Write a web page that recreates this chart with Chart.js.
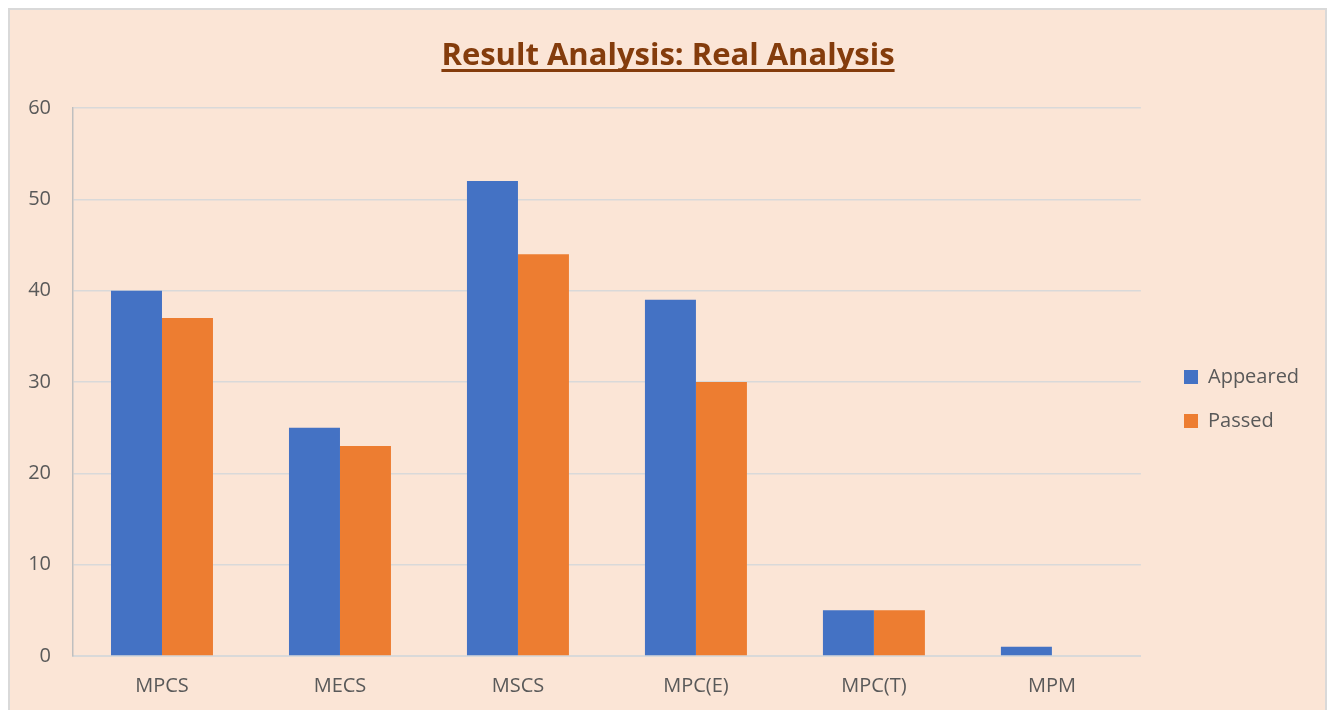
<!DOCTYPE html>
<html>
<head>
<meta charset="utf-8">
<script src="https://cdn.jsdelivr.net/npm/chart.js@4/dist/chart.umd.min.js"></script>
<style>
  html, body { margin: 0; padding: 0; background: #ffffff; }
  #c { display: block; }
</style>
</head>
<body>
<canvas id="c" width="1331" height="710"></canvas>
<script>
const categories = ['MPCS', 'MECS', 'MSCS', 'MPC(E)', 'MPC(T)', 'MPM'];
const appeared = [40, 25, 52, 39, 5, 1];
const passed = [37, 23, 44, 30, 5, 0];
const seriesNames = ['Appeared', 'Passed'];
const titleText = 'Result Analysis: Real Analysis';

const FONT = '"Open Sans", "Noto Sans", sans-serif';

const panelPlugin = {
  id: 'panel',
  beforeDraw(chart) {
    const ctx = chart.ctx;
    ctx.save();
    ctx.fillStyle = '#ffffff';
    ctx.fillRect(0, 0, chart.width, chart.height);
    ctx.fillStyle = '#FBE5D6';
    ctx.fillRect(9, 9, 1317, 720);
    ctx.strokeStyle = '#D9D9D9';
    ctx.lineWidth = 2;
    ctx.strokeRect(9, 9, 1317, 720);
    ctx.restore();
  },
  afterDraw(chart) {
    const ctx = chart.ctx;
    ctx.save();
    ctx.font = 'bold 31px ' + FONT;
    ctx.fillStyle = '#843C0C';
    ctx.textAlign = 'center';
    ctx.textBaseline = 'alphabetic';
    const cx = 668, by = 65;
    ctx.fillText(titleText, cx, by);
    const w = ctx.measureText(titleText).width;
    ctx.fillRect(cx - w / 2, by + 4, w, 3);
    ctx.restore();
  }
};

const legendShift = {
  id: 'legendShift',
  afterLayout(chart) {
    const lg = chart.legend;
    if (!lg) return;
    const dx = 1160 - lg.left;
    lg.left += dx; lg.right += dx;
    lg.top -= 10; lg.bottom -= 10;
  }
};

new Chart(document.getElementById('c'), {
  type: 'bar',
  data: {
    labels: categories,
    datasets: [
      { label: seriesNames[0], data: appeared, backgroundColor: '#4472C4', borderWidth: 0 },
      { label: seriesNames[1], data: passed, backgroundColor: '#ED7D31', borderWidth: 0 }
    ]
  },
  options: {
    responsive: false,
    animation: false,
    devicePixelRatio: 1,
    layout: { padding: { top: 108, right: 41, bottom: 0, left: 0 } },
    datasets: { bar: { categoryPercentage: 0.573, barPercentage: 1.0 } },
    scales: {
      x: {
        grid: { display: false, drawTicks: false },
        border: { display: true, color: '#D9D9D9', width: 2 },
        ticks: { color: '#595959', font: { family: FONT, size: 20 }, padding: 18, maxRotation: 0 },
        afterFit(s) { s.height = 54; }
      },
      y: {
        min: 0, max: 60,
        grid: { color: '#D9D9D9', lineWidth: 1.5, drawTicks: false },
        border: { display: true, color: '#BFBFBF', width: 1.5 },
        ticks: { stepSize: 10, color: '#595959', font: { family: FONT, size: 20 }, padding: 22 },
        afterFit(s) { s.width = 73; }
      }
    },
    plugins: {
      title: { display: false },
      tooltip: { enabled: false },
      legend: {
        position: 'right',
        align: 'center',
        labels: {
          boxWidth: 14, boxHeight: 14, padding: 24,
          color: '#595959',
          font: { family: FONT, size: 20 }
        }
      }
    }
  },
  plugins: [panelPlugin, legendShift]
});
</script>
</body>
</html>
